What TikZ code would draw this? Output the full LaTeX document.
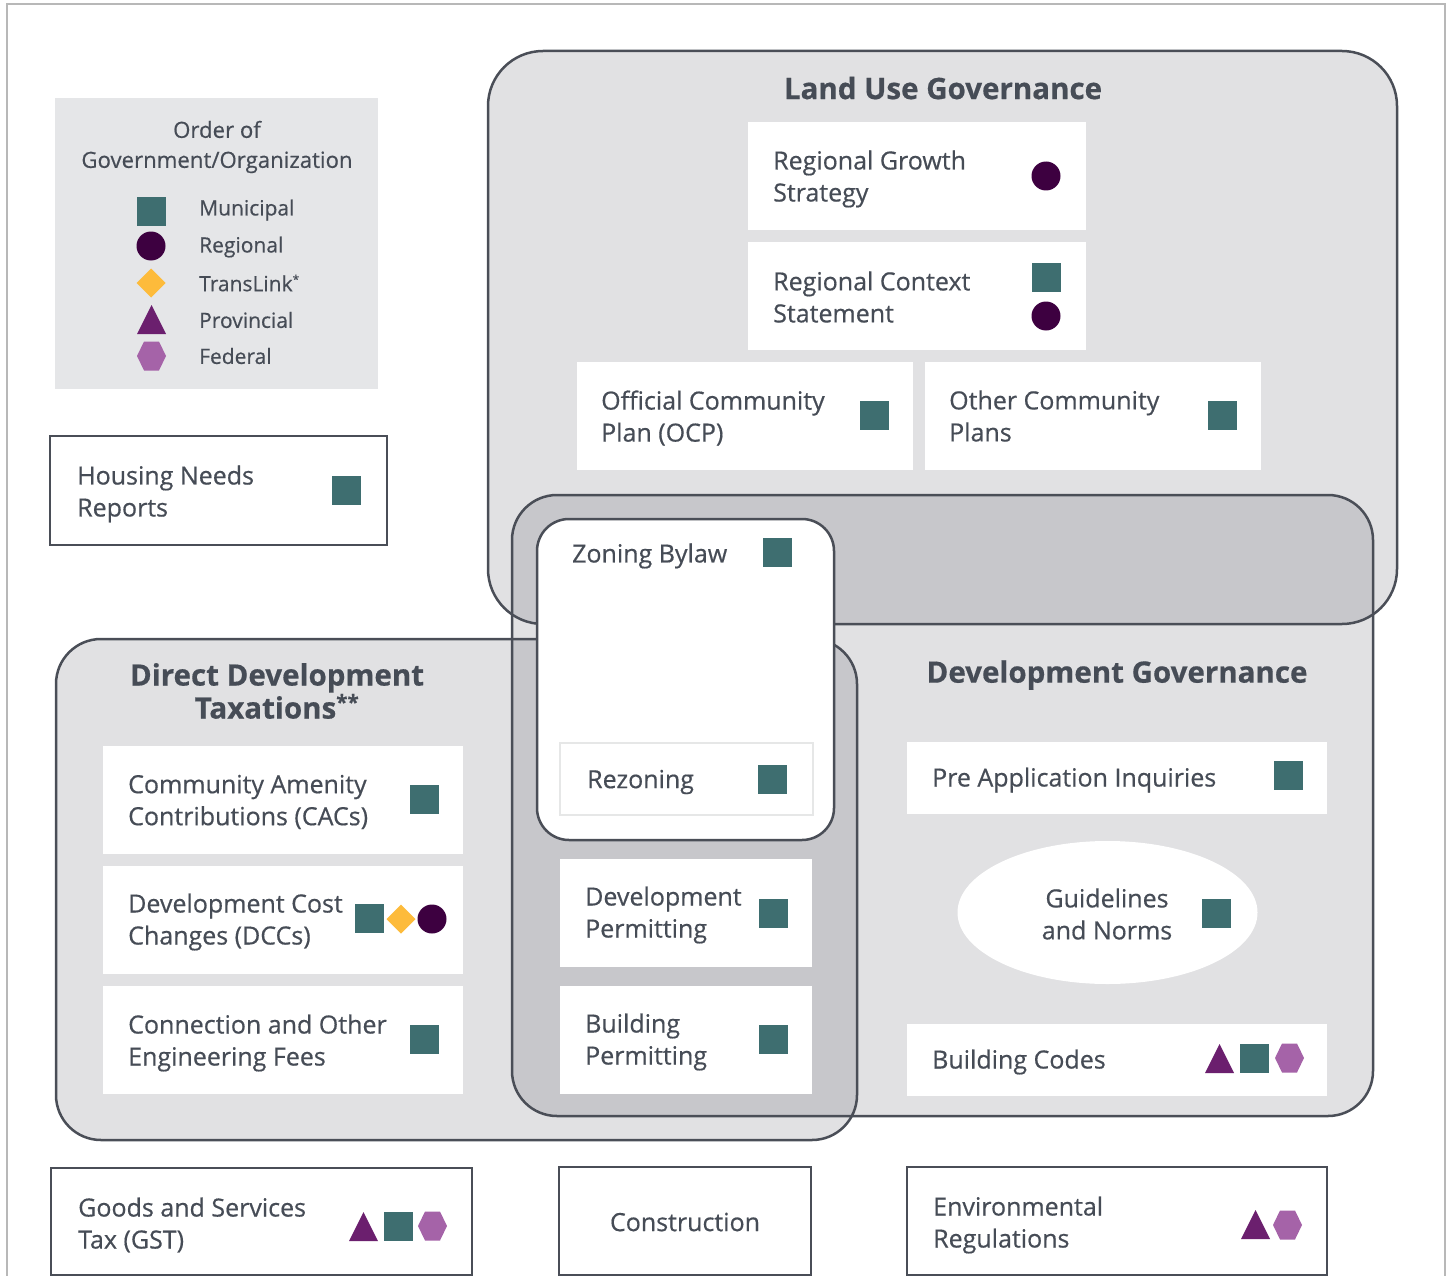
\documentclass[tikz,border=0pt]{standalone}
\usepackage{fontspec}
\setmainfont{Open Sans}[RawFeature={embolden=0.5}]
\definecolor{txt}{HTML}{464C56}
\definecolor{ln}{HTML}{4A4E57}
\definecolor{frm}{HTML}{B8B8B8}
\definecolor{lg}{HTML}{E1E1E3}
\definecolor{ov}{HTML}{C7C7CB}
\definecolor{leg}{HTML}{E5E6E8}
\definecolor{muni}{HTML}{3E6E70}
\definecolor{regc}{HTML}{3D0040}
\definecolor{trl}{HTML}{FDBB3B}
\definecolor{prov}{HTML}{6B1F6E}
\definecolor{fed}{HTML}{A563A8}
\definecolor{rzb}{HTML}{E6E7E7}
\newcommand{\Sq}[2]{\fill[muni] (#1,#2) rectangle ++(29,29);}
\newcommand{\Ci}[2]{\fill[regc] (#1,#2) circle (14.5pt);}
\newcommand{\Di}[2]{\fill[trl] ($(#1,#2)+(-14.5,0)$) -- ++(14.5,-14.5) -- ++(14.5,14.5) -- ++(-14.5,14.5) -- cycle;}
\newcommand{\Tr}[2]{\fill[prov] (#1,#2) -- ++(29,0) -- ++(-14.5,-29) -- cycle;}
\newcommand{\Hx}[2]{\fill[fed] (#1,#2) -- ++(7,-14.5) -- ++(15,0) -- ++(7,14.5) -- ++(-7,14.5) -- ++(-15,0) -- cycle;}
\usetikzlibrary{calc}
\begin{document}
\begin{tikzpicture}[x=1pt,y=-1pt,
  boxtxt/.style={anchor=west,align=left,inner sep=0pt,text=txt,font=\fontsize{25}{32}\selectfont},
  legtxt/.style={anchor=west,inner sep=0pt,text=txt,font=\fontsize{21}{30}\selectfont},
  ttl/.style={align=center,inner sep=0pt,text=txt,font=\fontsize{29.5}{33}\selectfont\bfseries},
  wbox/.style={fill=white,draw=none},
  obox/.style={fill=white,draw=ln,line width=2.5pt},
  region/.style={draw=ln,line width=2.5pt}]
\useasboundingbox (0,0) rectangle (1453,1276);
% outer frame
\draw[frm,line width=2pt] (7,1280) -- (7,4) -- (1445,4) -- (1445,1280);
% legend
\fill[leg] (55,98) rectangle (378,389);
\node[align=center,inner sep=0pt,text=txt,font=\fontsize{22.2}{30}\selectfont] (legt) at (217,147) {Order of\\Government/Organization};
\Sq{137}{197}
\Ci{151}{246}
\Di{151}{283}
\Tr{137}{334}
\Hx{137}{356}
\node[legtxt] (l1) at (199,210) {Municipal};
\node[legtxt] (l2) at (199,247) {Regional};
\node[legtxt] (l3) at (199,283) {TransLink\textsuperscript{\fontsize{12}{12}\selectfont*}};
\node[legtxt] (l4) at (199,320) {Provincial};
\node[legtxt] (l5) at (199,356) {Federal};
% regions fills
\fill[lg,rounded corners=55pt] (488,51) rectangle (1397,624);
\fill[lg,rounded corners=45pt] (512,495) rectangle (1373,1116);
\fill[lg,rounded corners=45pt] (56,639) rectangle (857,1140);
\begin{scope}
\clip[rounded corners=45pt] (512,495) rectangle (1373,1116);
\fill[ov,rounded corners=55pt] (488,51) rectangle (1397,624);
\fill[ov,rounded corners=45pt] (56,639) rectangle (857,1140);
\end{scope}
\draw[region,rounded corners=55pt] (488,51) rectangle (1397,624);
\draw[region,rounded corners=45pt] (512,495) rectangle (1373,1116);
\draw[region,rounded corners=45pt] (56,639) rectangle (857,1140);
% titles
\node[ttl] (tlu) at (943,88) {Land Use Governance};
\node[ttl] (tdd) at (277,691) {Direct Development\\Taxations\textsuperscript{**}};
\node[ttl] (tdg) at (1117,675) {Development Governance};
% land use boxes
\fill[wbox] (748,122) rectangle (1086,230);
\node[boxtxt] (rgs) at (773,179) {Regional Growth\\Strategy};
\Ci{1046}{176}
\fill[wbox] (748,242) rectangle (1086,350);
\node[boxtxt] (rcs) at (773,297) {Regional Context\\Statement};
\Sq{1032}{263}
\Ci{1046}{316}
\fill[wbox] (577,362) rectangle (913,470);
\node[boxtxt] (ocp) at (601,418) {Official Community\\Plan (OCP)};
\Sq{860}{401}
\fill[wbox] (925,362) rectangle (1261,470);
\node[boxtxt] (ocpl) at (949,416) {Other Community\\Plans};
\Sq{1208}{401}
% housing
\draw[obox] (50,436) rectangle (387,545);
\node[boxtxt] (hnr) at (77,494) {Housing Needs\\Reports};
\Sq{332}{476}
% zoning
\draw[obox,rounded corners=32pt] (537,519) rectangle (834,840);
\node[boxtxt] (zb) at (572,556) {Zoning Bylaw};
\Sq{763}{538}
\draw[fill=white,draw=rzb,line width=2.5pt] (560,743) rectangle (813,815);
\node[boxtxt] (rz) at (587,782) {Rezoning};
\Sq{758}{765}
% permitting
\fill[wbox] (560,859) rectangle (812,967);
\node[boxtxt] (dp) at (585,915) {Development\\Permitting};
\Sq{759}{899}
\fill[wbox] (560,986) rectangle (812,1094);
\node[boxtxt] (bp) at (585,1042) {Building\\Permitting};
\Sq{759}{1025}
% DDT boxes
\fill[wbox] (103,746) rectangle (463,854);
\node[boxtxt] (cac) at (128,802) {Community Amenity\\Contributions (CACs)};
\Sq{410}{785}
\fill[wbox] (103,866) rectangle (463,974);
\node[boxtxt] (dcc) at (128,922) {Development Cost\\Changes (DCCs)};
\Sq{355}{904}
\Di{401}{919}
\Ci{432}{919}
\fill[wbox] (103,986) rectangle (463,1094);
\node[boxtxt] (cef) at (128,1043) {Connection and Other\\Engineering Fees};
\Sq{410}{1025}
% dev gov boxes
\fill[wbox] (907,742) rectangle (1327,814);
\node[boxtxt] (pai) at (932,780) {Pre Application Inquiries};
\Sq{1274}{761}
\fill[white] (1107.5,912.5) ellipse (150pt and 71.5pt);
\node[boxtxt,anchor=center,align=center] (gn) at (1107,914) {Guidelines\\and Norms};
\Sq{1202}{899}
\fill[wbox] (907,1024) rectangle (1327,1096);
\node[boxtxt] (bc) at (932,1062) {Building Codes};
\Tr{1205}{1073}
\Sq{1240}{1044}
\Hx{1275}{1058}
% bottom boxes
\draw[obox] (51,1168) rectangle (472,1275);
\node[boxtxt] (gst) at (78,1225) {Goods and Services\\Tax (GST)};
\Tr{349}{1241}
\Sq{384}{1212}
\Hx{418}{1226}
\draw[obox] (559,1167) rectangle (811,1275);
\node[boxtxt,anchor=center] (con) at (685,1222) {Construction};
\draw[obox] (907,1167) rectangle (1327,1275);
\node[boxtxt] (env) at (933,1225) {Environmental\\Regulations};
\Tr{1241}{1239}
\Hx{1273}{1225}
\end{tikzpicture}
\end{document}
